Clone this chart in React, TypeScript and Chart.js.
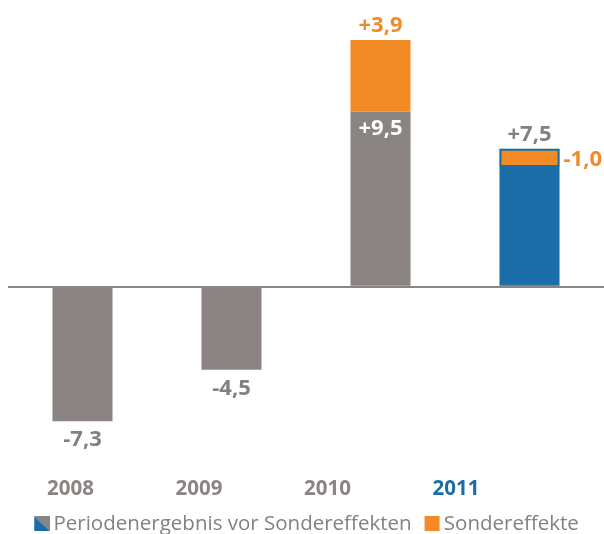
import React, { useEffect, useRef } from 'react';
import { Chart, registerables } from 'chart.js';

Chart.register(...registerables);

const years = ['2008', '2009', '2010', '2011'];
const resultBeforeSpecial = [-7.3, -4.5, 9.5, 7.5];
const specialEffects: (number | null)[] = [null, null, 3.9, -1.0];
const seriesNames = ['Periodenergebnis vor Sondereffekten', 'Sondereffekte'];
const yMin = -9.88;
const yMax = 15.57;

const GREY = '#8a8583';
const BLUE = '#1b6da8';
const ORANGE = '#f28a25';
const TEXT_GREY = '#858080';
const FONT = '"Open Sans", "Noto Sans", sans-serif';
const LEGEND_FONT_SIZE = 20.5;

const fmt = (v: number) => (v > 0 ? '+' : '') + v.toFixed(1).replace('.', ',');

// icon canvas: transparent left pad + swatch on the right
const ICON_PAD = 16;
function makeIcon(kind: 'split' | 'orange'): HTMLCanvasElement {
  const c = document.createElement('canvas');
  c.width = ICON_PAD + 16;
  c.height = 15;
  const g = c.getContext('2d')!;
  g.translate(ICON_PAD, 0);
  if (kind === 'orange') {
    g.fillStyle = ORANGE;
    g.fillRect(0, 0, 15, 15);
  } else {
    g.fillStyle = GREY;
    g.beginPath();
    g.moveTo(0, 0);
    g.lineTo(16, 0);
    g.lineTo(16, 15);
    g.closePath();
    g.fill();
    g.fillStyle = BLUE;
    g.beginPath();
    g.moveTo(0, 0);
    g.lineTo(16, 15);
    g.lineTo(0, 15);
    g.closePath();
    g.fill();
  }
  return c;
}

const valueLabels = {
  id: 'valueLabels',
  afterDatasetsDraw(chart: any) {
    const ctx = chart.ctx;
    ctx.save();
    ctx.font = `700 22px ${FONT}`;
    ctx.textBaseline = 'alphabetic';
    const m0 = chart.getDatasetMeta(0);
    const m1 = chart.getDatasetMeta(1);
    resultBeforeSpecial.forEach((v, i) => {
      const bar = m0.data[i];
      const sp = specialEffects[i];
      ctx.textAlign = 'center';
      if (v < 0) {
        ctx.fillStyle = TEXT_GREY;
        ctx.fillText(fmt(v), bar.x, bar.y + 25);
      } else if (sp !== null && sp > 0) {
        ctx.fillStyle = '#ffffff';
        ctx.fillText(fmt(v), bar.x, bar.y + 23);
      } else {
        ctx.fillStyle = TEXT_GREY;
        ctx.fillText(fmt(v), bar.x, bar.y - 8);
      }
    });
    specialEffects.forEach((sp, i) => {
      if (sp === null) return;
      const bar = m1.data[i];
      ctx.fillStyle = ORANGE;
      if (sp > 0) {
        ctx.textAlign = 'center';
        ctx.fillText(fmt(sp), bar.x, Math.min(bar.y, bar.base) - 8);
      } else {
        ctx.textAlign = 'left';
        ctx.fillText(fmt(sp), bar.x + bar.width / 2 + 4, (bar.y + bar.base) / 2 + 8);
      }
    });
    ctx.restore();
  },
};

export default function App() {
  const ref = useRef<HTMLCanvasElement | null>(null);
  useEffect(() => {
    const icons = [makeIcon('split'), makeIcon('orange')];
    const specialRanges = specialEffects.map((sp, i) =>
      sp === null ? null : [resultBeforeSpecial[i], resultBeforeSpecial[i] + sp].sort((a, b) => a - b)
    );
    const chart = new Chart(ref.current!, {
      type: 'bar',
      data: {
        labels: years,
        datasets: [
          {
            label: seriesNames[0],
            data: resultBeforeSpecial,
            backgroundColor: years.map((_, i) => (i === years.length - 1 ? BLUE : GREY)),
            grouped: false,
            order: 2,
          } as any,
          {
            label: seriesNames[1],
            data: specialRanges as any,
            backgroundColor: ORANGE,
            borderColor: BLUE,
            borderWidth: specialEffects.map((sp) => (sp !== null && sp < 0 ? 2 : 0)),
            borderSkipped: false,
            grouped: false,
            order: 1,
          } as any,
        ],
      },
      options: {
        animation: false,
        responsive: false,
        maintainAspectRatio: false,
        categoryPercentage: 1,
        barPercentage: 0.403,
        layout: { padding: { left: 0, right: 0, top: 0, bottom: -10 } },
        scales: {
          x: { display: false, offset: true },
          xl: {
            type: 'linear',
            axis: 'x',
            position: 'bottom',
            offset: false,
            min: -0.486,
            max: 4.152,
            grid: { display: false, drawTicks: false },
            border: { display: false },
            afterBuildTicks: (s: any) => {
              s.ticks = years.map((_, i) => ({ value: i }));
            },
            ticks: {
              autoSkip: false,
              maxRotation: 0,
              padding: 8,
              callback: (v: any) => years[v] ?? '',
              color: (c: any) => (c.index === years.length - 1 ? BLUE : GREY),
              font: { family: FONT, size: 20.5, weight: '700' as any },
            },
          } as any,
          y: {
            min: yMin,
            max: yMax,
            afterFit: (s: any) => {
              s.width = 8;
            },
            ticks: { display: false, stepSize: 5 },
            border: { display: false },
            grid: {
              drawTicks: false,
              lineWidth: 2,
              color: (c: any) => (c.tick && c.tick.value === 0 ? GREY : 'rgba(0,0,0,0)'),
            },
          } as any,
        },
        plugins: {
          tooltip: { enabled: false },
          legend: {
            position: 'bottom',
            labels: {
              usePointStyle: true,
              pointStyleWidth: 18,
              boxHeight: 15,
              padding: 4,
              color: TEXT_GREY,
              font: { family: FONT, size: LEGEND_FONT_SIZE },
              generateLabels: () =>
                seriesNames.map((name, i) => ({
                  text: name,
                  pointStyle: icons[i],
                  fillStyle: i === 0 ? BLUE : ORANGE,
                  strokeStyle: 'rgba(0,0,0,0)',
                  lineWidth: 0,
                  fontColor: TEXT_GREY,
                  hidden: false,
                  datasetIndex: i,
                })) as any,
            },
          },
        },
      },
      plugins: [valueLabels],
    });
    return () => chart.destroy();
  }, []);
  return (
    <div style={{ position: 'absolute', left: 0, top: 0, width: 604, height: 534 }}>
      <canvas ref={ref} width={604} height={534} style={{ width: 604, height: 534 }} />
    </div>
  );
}
